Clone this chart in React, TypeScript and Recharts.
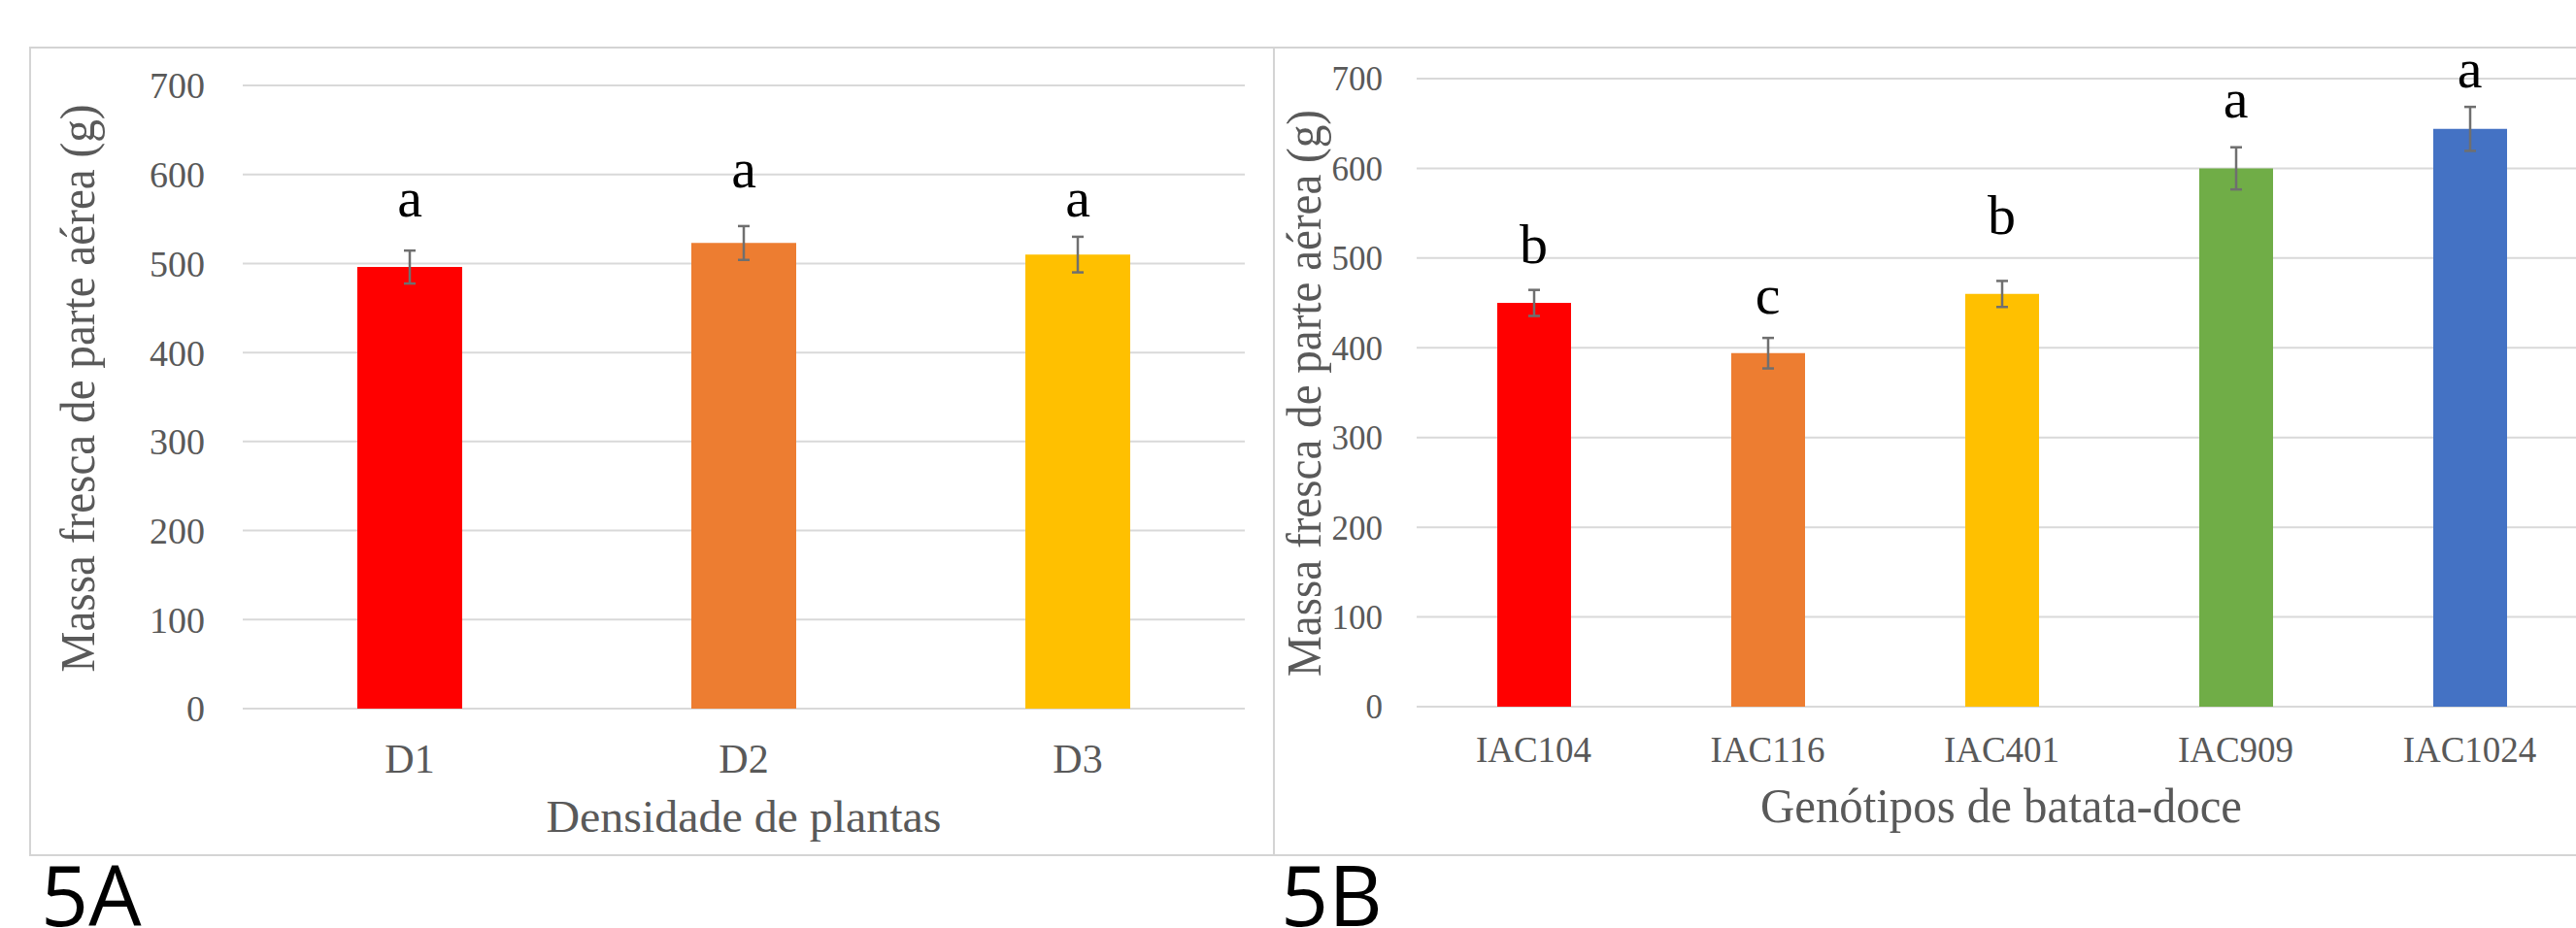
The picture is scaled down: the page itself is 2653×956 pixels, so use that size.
import React from "react";
import {
  ComposedChart,
  Bar,
  Cell,
  ErrorBar,
  Scatter,
  XAxis,
  YAxis,
  CartesianGrid,
} from "recharts";

// 5A - densidade de plantas
const densidades = ["D1", "D2", "D3"];
const massaDensidade = [496, 523, 510];
const erroDensidade = [18.5, 19, 20];
const letrasDensidade = ["a", "a", "a"];
const posLetraDensidade = [553, 586, 553];

// 5B - genótipos de batata-doce
const genotipos = ["IAC104", "IAC116", "IAC401", "IAC909", "IAC1024"];
const massaGenotipo = [450, 394, 460, 600, 644];
const erroGenotipo = [14.5, 17, 14.5, 23.5, 24.5];
const letrasGenotipo = ["b", "c", "b", "a", "a"];
const posLetraGenotipo = [494, 438, 527, 657, 690];

const yTicks = [0, 100, 200, 300, 400, 500, 600, 700];

const coresDensidade = ["#FF0000", "#ED7D31", "#FFC000"];
const coresGenotipo = ["#FF0000", "#ED7D31", "#FFC000", "#70AD47", "#4472C4"];

const GRAY = "#595959";
const GRID = "#d9d9d9";
const SERIF = "'Liberation Serif', 'Times New Roman', serif";

type Row = { cat: string; massa: number; erro: number; letra: string; posLetra: number };

function buildRows(cats: string[], vals: number[], errs: number[], letras: string[], pos: number[]): Row[] {
  return cats.map((c, i) => ({ cat: c, massa: vals[i], erro: errs[i], letra: letras[i], posLetra: pos[i] }));
}

type PainelProps = {
  rows: Row[];
  cores: string[];
  width: number;
  height: number;
  top: number;
  xAxisHeight: number;
  yAxisWidth: number;
  barSize: number;
  yTickFont: number;
  xTickFont: number;
  yTickMargin: number;
  xTickMargin: number;
};

function Painel(p: PainelProps) {
  return (
    <ComposedChart
      width={p.width}
      height={p.height}
      data={p.rows}
      margin={{ top: p.top, right: 30, bottom: 0, left: 0 }}
    >
      <CartesianGrid vertical={false} stroke={GRID} strokeWidth={2} />
      <XAxis
        dataKey="cat"
        height={p.xAxisHeight}
        axisLine={false}
        tickLine={false}
        tickSize={0}
        tickMargin={p.xTickMargin}
        interval={0}
        tick={{ fontSize: p.xTickFont, fill: GRAY, fontFamily: SERIF }}
      />
      <YAxis
        domain={[0, 700]}
        ticks={yTicks}
        width={p.yAxisWidth}
        axisLine={false}
        tickLine={false}
        tickSize={0}
        tickMargin={p.yTickMargin}
        tick={{ fontSize: p.yTickFont, fill: GRAY, fontFamily: SERIF }}
      />
      <Bar dataKey="massa" barSize={p.barSize} isAnimationActive={false}>
        {p.rows.map((r, i) => (
          <Cell key={r.cat} fill={p.cores[i]} />
        ))}
        <ErrorBar dataKey="erro" direction="y" width={6} stroke="#6f6f6f" strokeWidth={2.5} />
      </Bar>
      <Scatter
        dataKey="posLetra"
        isAnimationActive={false}
        shape={(s: any) => (
          <text x={s.cx} y={s.cy} textAnchor="middle" fontSize={58} fontFamily={SERIF} fill="#000">
            {s.payload.letra}
          </text>
        )}
      />
    </ComposedChart>
  );
}

const rowsA = buildRows(densidades, massaDensidade, erroDensidade, letrasDensidade, posLetraDensidade);
const rowsB = buildRows(genotipos, massaGenotipo, erroGenotipo, letrasGenotipo, posLetraGenotipo);

export default function App() {
  const abs: React.CSSProperties = { position: "absolute" };
  return (
    <div
      style={{
        position: "fixed",
        left: 0,
        top: 0,
        width: 2653,
        height: 956,
        overflow: "hidden",
        background: "#fff",
      }}
    >
      <div style={{ ...abs, left: 30, top: 48, width: 1283, height: 834, border: "2px solid #d4d4d4", boxSizing: "border-box" }} />
      <div style={{ ...abs, left: 1311, top: 48, width: 1500, height: 834, border: "2px solid #d4d4d4", boxSizing: "border-box" }} />

      <div style={{ ...abs, left: 31, top: 49 }}>
        <Painel
          rows={rowsA}
          cores={coresDensidade}
          width={1281}
          height={832}
          top={39}
          xAxisHeight={151}
          yAxisWidth={219}
          barSize={108}
          yTickFont={38}
          xTickFont={42}
          yTickMargin={39}
          xTickMargin={36}
        />
      </div>

      <div style={{ ...abs, left: 1312, top: 49 }}>
        <Painel
          rows={rowsB}
          cores={coresGenotipo}
          width={1382}
          height={832}
          top={32}
          xAxisHeight={153}
          yAxisWidth={147}
          barSize={76}
          yTickFont={35}
          xTickFont={37}
          yTickMargin={35}
          xTickMargin={31}
        />
      </div>

      <svg width={2653} height={956} style={{ ...abs, left: 0, top: 0, pointerEvents: "none" }}>
        <g fontFamily={SERIF} fill={GRAY}>
          <text
            transform="translate(97 400) rotate(-90)"
            textAnchor="middle"
            fontSize={50}
            textLength={585}
            lengthAdjust="spacingAndGlyphs"
          >
            Massa fresca de parte aérea (g)
          </text>
          <text x={766} y={857} textAnchor="middle" fontSize={46} textLength={407} lengthAdjust="spacingAndGlyphs">
            Densidade de plantas
          </text>
          <text
            transform="translate(1360 405) rotate(-90)"
            textAnchor="middle"
            fontSize={50}
            textLength={584}
            lengthAdjust="spacingAndGlyphs"
          >
            Massa fresca de parte aérea (g)
          </text>
          <text x={2061} y={847} textAnchor="middle" fontSize={50} textLength={496} lengthAdjust="spacingAndGlyphs">
            Genótipos de batata-doce
          </text>
        </g>
        <g fontFamily="'Open Sans', sans-serif" fill="#000" fontSize={86}>
          <text x={42} y={954}>5A</text>
          <text x={1319} y={954}>5B</text>
        </g>
      </svg>
    </div>
  );
}
